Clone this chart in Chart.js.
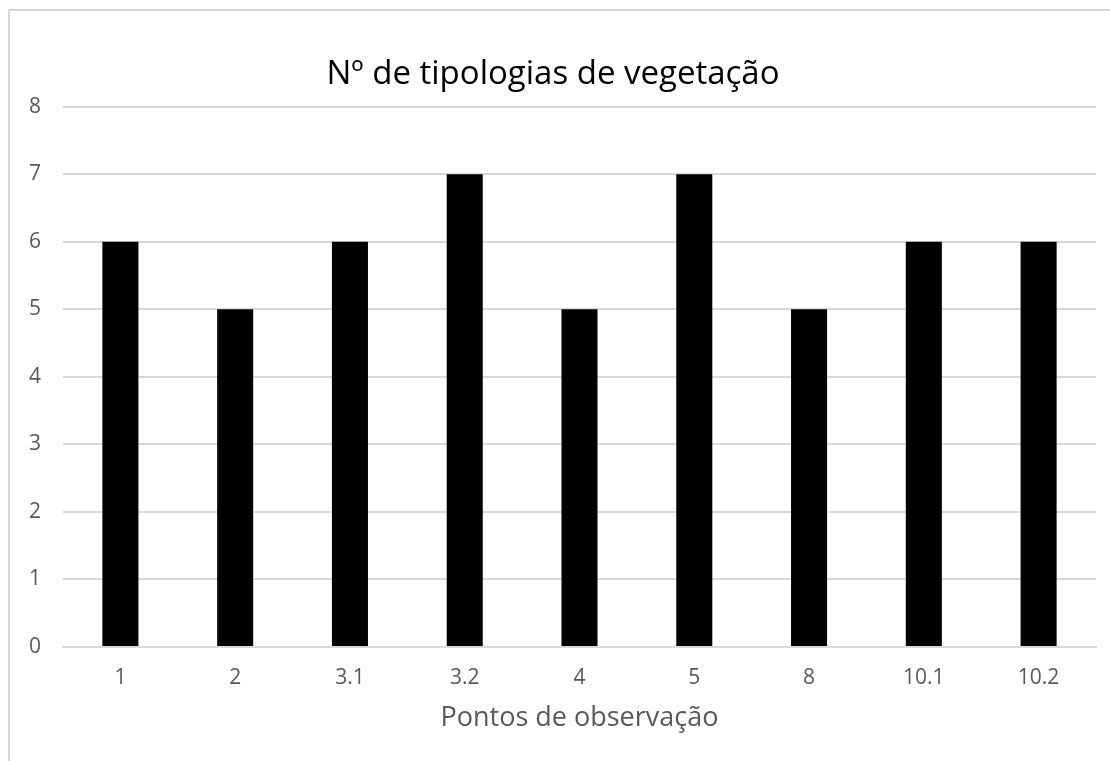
<!DOCTYPE html>
<html>
<head>
<meta charset="utf-8">
<script src="https://cdn.jsdelivr.net/npm/chart.js@4"></script>
<style>
  html, body { margin: 0; padding: 0; background: #fff; overflow: hidden; }
  #wrap { position: relative; width: 1110px; height: 761px; }
  #frame { position: absolute; left: 8px; top: 9px; width: 1200px; height: 900px;
           border: 2px solid #d9d9d9; box-sizing: border-box; pointer-events: none; }
</style>
</head>
<body>
<div id="wrap">
  <canvas id="grafico" width="1110" height="761"></canvas>
  <div id="frame"></div>
</div>
<script>
// Datos del gráfico
const pontos = ['1', '2', '3.1', '3.2', '4', '5', '8', '10.1', '10.2'];
const tipologias = [6, 5, 6, 7, 5, 7, 5, 6, 6];
const ticksY = [0, 1, 2, 3, 4, 5, 6, 7, 8];

const fuente = "'Open Sans', 'DejaVu Sans', sans-serif";
const grisTexto = '#595959';

const ctx = document.getElementById('grafico').getContext('2d');
new Chart(ctx, {
    type: 'bar',
    data: {
        labels: pontos,
        datasets: [{
            label: 'Nº de tipologias de vegetação',
            data: tipologias,
            backgroundColor: '#000000',
            borderWidth: 0,
            categoryPercentage: 1,
            barPercentage: 0.314
        }]
    },
    options: {
        responsive: false,
        animation: false,
        layout: { padding: { top: 0, right: 14, bottom: 29, left: 10 } },
        plugins: {
            legend: { display: false },
            tooltip: { enabled: false },
            title: {
                display: true,
                text: 'Nº de tipologias de vegetação',
                color: '#000000',
                font: { family: fuente, size: 33, weight: 'normal', lineHeight: 1.2 },
                padding: { top: 55, bottom: 12 }
            }
        },
        scales: {
            x: {
                afterFit: function(scale) { scale.height = 85; },
                grid: { display: false, drawTicks: false },
                border: { display: true, color: '#d9d9d9', width: 2 },
                ticks: { color: grisTexto, font: { family: fuente, size: 21, lineHeight: 0.7 }, padding: 24 },
                title: {
                    display: true,
                    text: 'Pontos de observação',
                    color: grisTexto,
                    font: { family: fuente, size: 27, lineHeight: 1 },
                    padding: { top: 0, bottom: 0 }
                }
            },
            y: {
                min: 0,
                max: 8,
                afterFit: function(scale) { scale.width = 53; },
                afterBuildTicks: function(scale) {
                    scale.ticks = ticksY.map(v => ({ value: v }));
                },
                grid: { color: '#d9d9d9', lineWidth: 2, drawTicks: false },
                border: { display: false },
                ticks: { color: grisTexto, font: { family: fuente, size: 21 }, padding: 22 }
            }
        }
    }
});
</script>
</body>
</html>
